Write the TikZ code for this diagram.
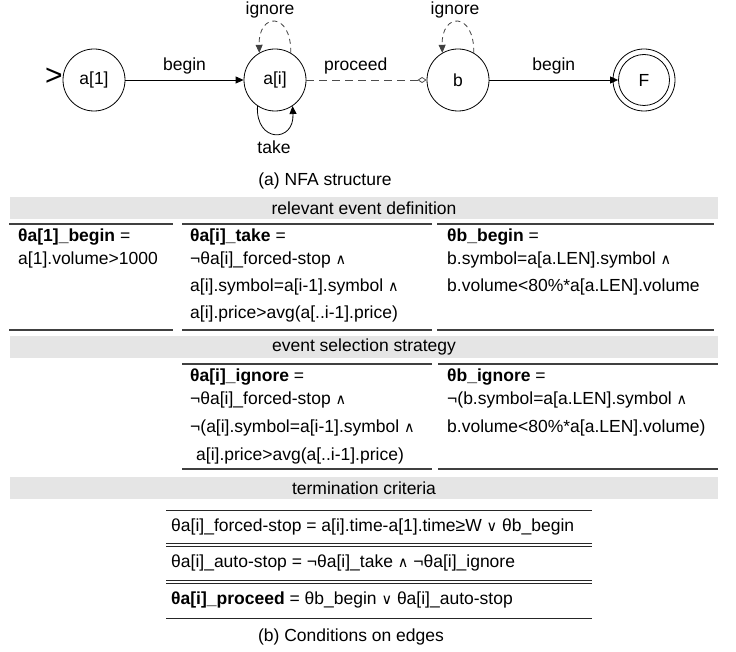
\documentclass[tikz,border=0pt]{standalone}
\usepackage{fontspec}
\setmainfont{Liberation Sans}
\newfontfamily\symf{DejaVu Sans}
\usetikzlibrary{arrows.meta}
\newcommand{\myand}{{\symf\fontsize{14.5}{14.5}\selectfont ∧}}
\newcommand{\myor}{{\symf\fontsize{14.5}{14.5}\selectfont ∨}}
\begin{document}
\begin{tikzpicture}[x=1pt,y=-1pt,
  font=\fontsize{17.5}{20}\selectfont,
  state/.style={circle,draw,minimum size=62pt,inner sep=0pt,line width=0.8pt},
  lbl/.style={inner sep=1pt},
  txt/.style={anchor=west,inner sep=0pt},
  band/.style={fill=black!10},
  rule/.style={line width=1.3pt,draw=black!75},
  trule/.style={line width=0.9pt,draw=black!85},
  tipsolid/.style={-{Triangle[length=8pt,width=7pt]}},
  dashloop/.style={dash pattern=on 5pt off 4pt,draw=black!75,line width=0.8pt}
]
\useasboundingbox (0,0) rectangle (736,652);

% ---------- NFA ----------
\node[state] (a1) at (94,80) {a[1]};
\node[state] (ai) at (275,80) {a[i]};
\node[state] (b) at (458,80) {b};
\node[state] (F) at (644,80) {F};
\node[circle,draw,minimum size=51pt,inner sep=0pt,line width=0.8pt] (Fin) at (F) {};
\node[font=\fontsize{30}{30}\selectfont,inner sep=0pt] (start) at (54,77) {>};

\draw[tipsolid,line width=0.8pt] (a1) -- node[lbl,above=4pt] (lbegin1) {begin} (ai);
\draw[dash pattern=on 8pt off 5pt,draw=black!70,line width=0.8pt,
      -{Diamond[open,length=9pt,width=6pt]}] (ai) -- node[lbl,above=4pt,text=black,pos=0.41] (lproceed) {proceed} (b);
\draw[tipsolid,line width=0.8pt] (b) -- node[lbl,above=4pt] (lbegin2) {begin} (Fin);

\draw[dashloop,tipsolid] (ai.60) .. controls +(1,-41) and +(-1,-41) .. (ai.120);
\draw[dashloop,tipsolid] (b.60) .. controls +(1,-41) and +(-1,-41) .. (b.120);
\draw[tipsolid,line width=0.8pt] (ai.236) .. controls +(-2,37) and +(2,37) .. (ai.304);

\node[lbl] (ign1) at (270,10) {ignore};
\node[lbl] (ign2) at (455,10) {ignore};
\node[lbl] (take) at (274,147) {take};
\node[lbl] (capa) at (325,181) {(a) NFA structure};

% ---------- relevant event definition ----------
\fill[band] (10,197) rectangle (718,219);
\node[lbl] (h1) at (364,208) {relevant event definition};
\draw[rule] (9,224) -- (173,224);
\draw[rule] (182,224) -- (432,224);
\draw[rule] (437,224) -- (714,224);
\draw[rule] (9,330) -- (173,330);
\draw[rule] (182,330) -- (432,330);
\draw[rule] (437,330) -- (714,330);

\node[txt] (r11) at (18,237) {\textbf{θa[1]\_begin} =};
\node[txt] (r12) at (18,260) {a[1].volume>1000};
\node[txt] (r21) at (190,237) {\textbf{θa[i]\_take} =};
\node[txt] (r22) at (190,260) {¬θa[i]\_forced-stop \myand};
\node[txt] (r23) at (190,287) {a[i].symbol=a[i-1].symbol \myand};
\node[txt] (r24) at (190,314) {a[i].price>avg(a[..i-1].price)};
\node[txt] (r31) at (447,237) {\textbf{θb\_begin} =};
\node[txt] (r32) at (447,260) {b.symbol=a[a.LEN].symbol \myand};
\node[txt] (r33) at (447,287) {b.volume<80\%*a[a.LEN].volume};

% ---------- event selection strategy ----------
\fill[band] (10,336) rectangle (718,358);
\node[lbl] (h2) at (364,347) {event selection strategy};
\draw[rule] (182,364) -- (432,364);
\draw[rule] (438,364) -- (718,364);
\draw[rule] (182,469) -- (432,469);
\draw[rule] (438,469) -- (718,469);

\node[txt] (s21) at (190,377) {\textbf{θa[i]\_ignore} =};
\node[txt] (s22) at (190,400) {¬θa[i]\_forced-stop \myand};
\node[txt] (s23) at (190,428) {¬(a[i].symbol=a[i-1].symbol \myand};
\node[txt] (s24) at (196,456) {a[i].price>avg(a[..i-1].price)};
\node[txt] (s31) at (447,377) {\textbf{θb\_ignore} =};
\node[txt] (s32) at (447,400) {¬(b.symbol=a[a.LEN].symbol \myand};
\node[txt] (s33) at (447,428) {b.volume<80\%*a[a.LEN].volume)};

% ---------- termination criteria ----------
\fill[band] (10,477) rectangle (718,499);
\node[lbl] (h3) at (364,488) {termination criteria};
\draw[trule] (166,510) -- (592,510);
\draw[trule] (166,543) -- (592,543);
\draw[trule] (166,546) -- (592,546);
\draw[trule] (166,580) -- (592,580);
\draw[trule] (166,583) -- (592,583);
\draw[trule] (166,618) -- (592,618);

\node[txt] (t1) at (171,527) {θa[i]\_forced-stop = a[i].time-a[1].time≥W \myor{} θb\_begin};
\node[txt] (t2) at (171,563) {θa[i]\_auto-stop = ¬θa[i]\_take \myand{} ¬θa[i]\_ignore};
\node[txt] (t3) at (171,600) {\textbf{θa[i]\_proceed} = θb\_begin \myor{} θa[i]\_auto-stop};

\node[lbl] (capb) at (351,637) {(b) Conditions on edges};
\end{tikzpicture}
\end{document}
